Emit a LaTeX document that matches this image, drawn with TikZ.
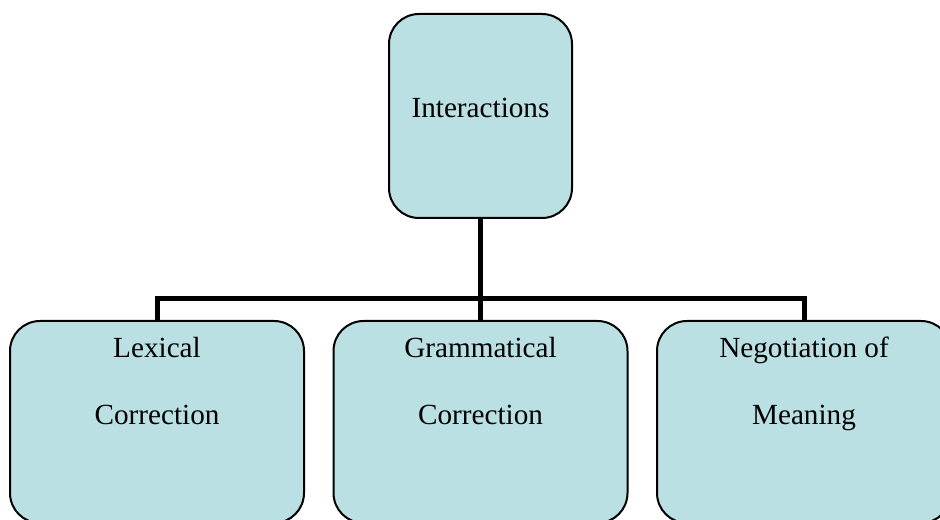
\documentclass[tikz,border=0pt]{standalone}
\usepackage{fontspec}
\setmainfont{Liberation Serif}
\definecolor{boxfill}{HTML}{BBE0E3}
\begin{document}
\begin{tikzpicture}[x=0.75pt,y=-0.75pt,
  box/.style={draw=black,line width=1.5pt,fill=boxfill,rounded corners=22.5pt,
    inner sep=0pt,minimum width=220.5pt,minimum height=151.5pt},
  topbox/.style={box,minimum width=137.25pt,minimum height=153pt},
  lbl/.style={anchor=base,inner sep=0pt,font=\fontsize{21.9}{26}\selectfont},
  conn/.style={line width=3.75pt,line join=miter}]
\useasboundingbox (0,0) rectangle (940,520);
\clip (0,0) rectangle (940,520);
\coordinate (bar) at (480.5,299);
\node[topbox] (top) at (480.5,116) {};
\node[box] (b1) at (157,422) {};
\node[box] (b2) at (480.5,422) {};
\node[box] (b3) at (804,422) {};
\draw[conn] (top.south) -- (b2.north);
\draw[conn] (b1.north) -- (b1.north |- bar) -- (b3.north |- bar) -- (b3.north);
\node[lbl] (t0) at (480.5,118) {Interactions};
\node[lbl] (t1a) at (157,358) {Lexical};
\node[lbl] (t1b) at (157,425) {Correction};
\node[lbl] (t2a) at (480.5,358) {Grammatical};
\node[lbl] (t2b) at (480.5,425) {Correction};
\node[lbl] (t3a) at (804,358) {Negotiation of};
\node[lbl] (t3b) at (804,425) {Meaning};
\end{tikzpicture}
\end{document}
